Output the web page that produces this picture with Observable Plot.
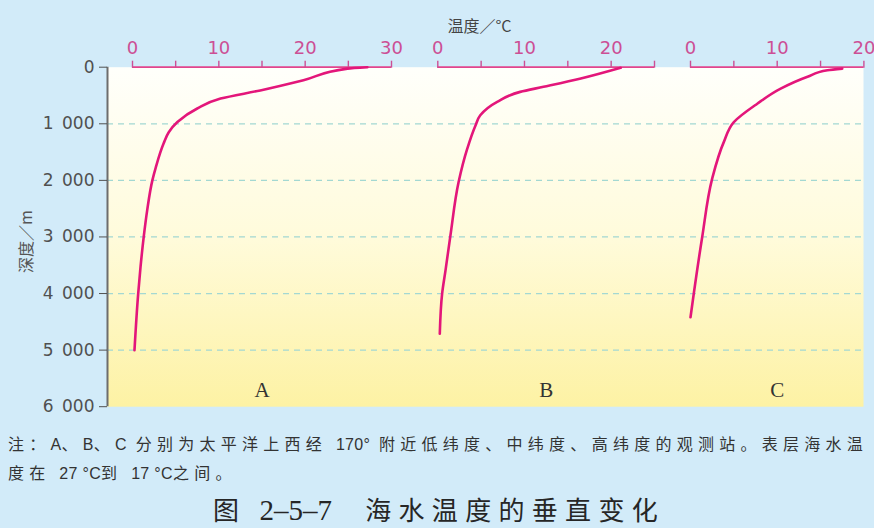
<!DOCTYPE html>
<html>
<head>
<meta charset="utf-8">
<script src="https://cdn.jsdelivr.net/npm/d3@7"></script>
<script src="https://cdn.jsdelivr.net/npm/@observablehq/plot@0.6"></script>
<style>
  html, body { margin: 0; padding: 0; background: #d2ebf9; }
  #wrap { position: relative; width: 874px; height: 528px; background: #d2ebf9; overflow: hidden;
          font-family: "Noto Sans CJK SC", "Noto Sans", sans-serif; }
  #chart { position: absolute; left: 0; top: 0; width: 874px; height: 420px; }
  #chart svg { position: absolute; left: 0; top: 0; overflow: visible; max-width: none; }
  .line { position: absolute; white-space: nowrap; display: inline-block; }
  .lat { letter-spacing: 0.3px; font-family: "Liberation Sans", "Noto Sans", sans-serif; }
  #n1 { left: 8px; top: 429px; font-size: 16px; line-height: 28px; color: #333; }
  #n2 { left: 8px; top: 458px; font-size: 16px; line-height: 28px; color: #333; }
  #title { left: 213px; top: 493px; font-size: 26px; line-height: 32px; color: #262626;
           font-family: "Noto Sans CJK SC", serif; }
  #title .num { font-family: "Liberation Serif", serif; font-size: 29px; letter-spacing: 0; }
</style>
</head>
<body>
<div id="wrap">
  <div id="chart"></div>
  <div id="n1" class="line">注：<span class="lat">A</span>、<span class="lat">B</span>、<span class="lat">C</span> 分别为太平洋上西经 <span class="lat">170°</span> 附近低纬度、中纬度、高纬度的观测站。表层海水温</div>
  <div id="n2" class="line">度在 <span class="lat">27 °C</span>到 <span class="lat">17 °C</span>之间。</div>
  <div id="title" class="line">图 <span class="num">2–5–7</span>　海水温度的垂直变化</div>
</div>
<script>
// ---------- data ----------
const depthTicks = [0, 1000, 2000, 3000, 4000, 5000, 6000];
const gridDepths = [1000, 2000, 3000, 4000, 5000];
const stationLabels = ["A", "B", "C"];

const tempTicksA = [0, 5, 10, 15, 20, 25, 30];
const tempTicksB = [0, 5, 10, 15, 20, 25];
const tempTicksC = [0, 5, 10, 15, 20];

// station A (low latitude)
const depthA = [0, 25, 230, 410, 555, 730, 970, 1150, 1350, 1770, 2000, 2530, 3000, 3530, 4000, 5000];
const tempA  = [27.2, 24.9, 19.8, 14.8, 10.2, 7.5, 5.2, 4.2, 3.6, 2.7, 2.3, 1.7, 1.3, 0.93, 0.66, 0.23];
// station B (mid latitude)
const depthB = [10, 200, 347, 436, 613, 850, 1030, 1440, 2030, 2970, 3590, 4000, 4710];
const tempB  = [21.1, 16.5, 12.2, 9.5, 6.85, 4.9, 4.35, 3.4, 2.4, 1.46, 0.89, 0.5, 0.23];
// station C (high latitude)
const depthC = [25, 55, 170, 380, 645, 970, 1320, 1970, 3000, 4000, 4420];
const tempC  = [17.5, 15.8, 13.5, 10.4, 7.7, 5.0, 3.85, 2.5, 1.35, 0.38, 0.0];

// ---------- layout ----------
const W = 874, H = 420, MT = 66.7, MB = 13.8;
const PINK_AXIS = "#e2448d", PINK_TEXT = "#cc4f95", CURVE = "#e3167a";

const yFmt = d => d === 0 ? "0" : d3.format(",")(d).replace(",", "\u2002");

const gradient = () => {
  const defs = d3.create("svg:defs");
  const g = defs.append("linearGradient").attr("id", "bgGrad")
    .attr("x1", 0).attr("y1", 0).attr("x2", 0).attr("y2", 1);
  g.append("stop").attr("offset", "0%").attr("stop-color", "#fffffb");
  g.append("stop").attr("offset", "50%").attr("stop-color", "#fffbdb");
  g.append("stop").attr("offset", "100%").attr("stop-color", "#fdf2a4");
  return defs.node();
};

const base = Plot.plot({
  width: W, height: H,
  marginLeft: 107, marginRight: 11, marginTop: MT, marginBottom: MB,
  style: { background: "transparent", overflow: "visible" },
  x: { domain: [0, 1], axis: null },
  y: { domain: [0, 6000], reverse: true, axis: null },
  marks: [
    gradient,
    Plot.frame({ fill: "url(#bgGrad)", stroke: null }),
    Plot.ruleY(gridDepths, { stroke: "#a3d8d2", strokeWidth: 1.3, strokeDasharray: "6,5" }),
    Plot.ruleX([0], { stroke: "#6d6d6d", strokeWidth: 2 }),
    Plot.axisY({ ticks: depthTicks, tickFormat: yFmt, tickSize: 8, tickPadding: 5,
                 fontSize: 17, fontFamily: "DejaVu Sans", color: "#505050", label: null }),
    Plot.text(["深度／m"], { frameAnchor: "left", rotate: -90, dx: -81, dy: 36,
                 fontSize: 16, fill: "#555", fontFamily: "Noto Sans CJK SC" }),
    Plot.text(["温度／°C"], { frameAnchor: "top", dx: -6, dy: -47,
                 fontSize: 16, fill: "#444", fontFamily: "Noto Sans CJK SC" })
  ]
});

function stationPlot(label, depth, temp, ticks, marginLeft, marginRight) {
  const rows = depth.map((d, i) => ({ depth: d, temp: temp[i] }));
  return Plot.plot({
    width: W, height: H,
    marginLeft, marginRight, marginTop: MT, marginBottom: MB,
    style: { background: "transparent", overflow: "visible" },
    x: { domain: [ticks[0], ticks[ticks.length - 1]], axis: null },
    y: { domain: [0, 6000], reverse: true, axis: null },
    marks: [
      Plot.ruleY([0], { stroke: PINK_AXIS, strokeWidth: 1.7 }),
      Plot.axisX({ anchor: "top", ticks, tickFormat: d => d % 10 === 0 ? String(d) : "",
                   tickSize: 7, tickPadding: 6, color: PINK_TEXT, strokeWidth: 1.4,
                   fontSize: 18, fontFamily: "DejaVu Sans", label: null }),
      Plot.line(rows, { x: "temp", y: "depth", stroke: CURVE, strokeWidth: 2.6,
                        curve: "monotone-y" }),
      Plot.text([label], { frameAnchor: "bottom", dy: -10, fontSize: 21,
                           fontFamily: "Liberation Serif", fill: "#333" })
    ]
  });
}

const chart = document.getElementById("chart");
chart.append(base);
chart.append(stationPlot(stationLabels[0], depthA, tempA, tempTicksA, 132, W - 391));
chart.append(stationPlot(stationLabels[1], depthB, tempB, tempTicksB, 437.3, W - 654));
chart.append(stationPlot(stationLabels[2], depthC, tempC, tempTicksC, 690, W - 863.4));

// fit text lines to their measured widths in the reference (spacing only between CJK glyphs)
function cjkCount(el) {
  let n = 0;
  el.childNodes.forEach(c => { if (c.nodeType === 3) n += [...c.textContent].length; });
  return n;
}
function fit(el, target) {
  el.style.letterSpacing = "0px";
  const w = el.getBoundingClientRect().width;
  const ls = (target - w) / cjkCount(el);
  el.style.letterSpacing = ls + "px";
  return ls;
}
const ls = fit(document.getElementById("n1"), 860);
document.getElementById("n2").style.letterSpacing = ls + "px";
fit(document.getElementById("title"), 452);
</script>
</body>
</html>
